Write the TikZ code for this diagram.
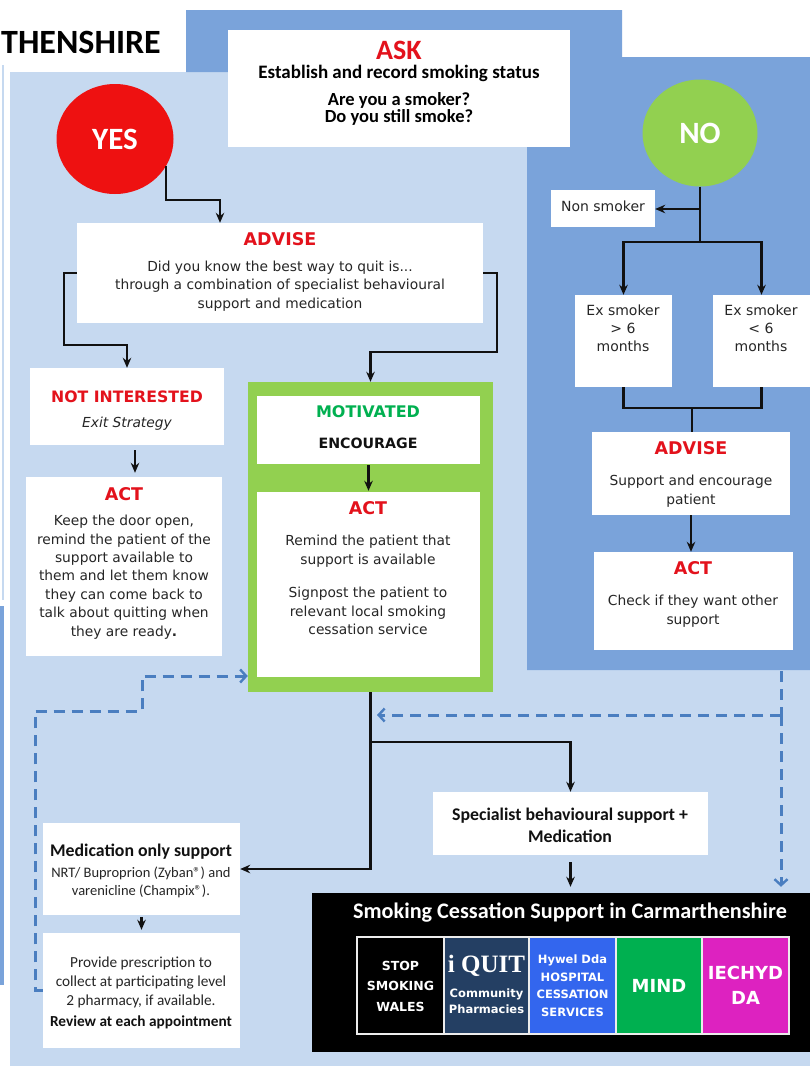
\documentclass[tikz,border=0pt]{standalone}
\usepackage{fontspec}
\setmainfont{DejaVu Sans}
\newfontfamily\calib{Carlito}
\newfontfamily\tnr{Liberation Serif}
\usetikzlibrary{arrows.meta,shapes.geometric,fit}
\definecolor{lblue}{HTML}{C6D9F0}
\definecolor{mblue}{HTML}{7AA3DA}
\definecolor{hred}{HTML}{E3121C}
\definecolor{cred}{HTML}{EE1111}
\definecolor{ygreen}{HTML}{92D050}
\definecolor{mgreen}{HTML}{00B050}
\definecolor{dblue}{HTML}{4A7EC0}
\definecolor{navy}{HTML}{243F63}
\definecolor{hblue}{HTML}{3366EE}
\definecolor{mag}{HTML}{DD22C0}
\definecolor{ink}{HTML}{111111}
\definecolor{txtc}{HTML}{262626}
\begin{document}
\begin{tikzpicture}[x=1pt,y=-1pt,
  wbox/.style={fill=white,draw=none,inner sep=0pt},
  conn/.style={draw=ink,line width=2.2pt,-{Stealth[length=10pt,width=8.5pt]}},
  plainline/.style={draw=ink,line width=2.2pt},
  dsh/.style={draw=dblue,line width=3pt,dash pattern=on 11pt off 7pt},
  dtip/.style={-{Straight Barb[length=6pt,width=13pt,line width=2.4pt]}},
  hd/.style={font=\bfseries\fontsize{#1}{#1}\selectfont,text=hred,inner sep=0pt},
  body/.style={font=\fontsize{13.8}{18.5}\selectfont,text=txtc,align=center,inner sep=0pt},
  cbody/.style={text=txtc,align=center,inner sep=0pt},
  lab/.style={text=white,align=center,inner sep=0pt},
  tile/.style={draw=white!85!gray,line width=1.5pt,inner sep=0pt}
]
% backgrounds
\fill[white] (0,0) rectangle (810,1066);
\fill[lblue] (10,72) rectangle (810,1066);
\fill[mblue] (186,10) -- (622,10) -- (622,57) -- (810,57) -- (810,670) -- (527,670) -- (527,72) -- (186,72) -- cycle;
\fill[lblue] (2,65) rectangle (3.5,600);
\fill[mblue] (0,606) rectangle (4,985);

\node[anchor=west,font=\calib\bfseries\fontsize{34}{34}\selectfont,inner sep=0pt] (hdr) at (1,42) {THENSHIRE};

% ASK
\node[wbox,fit={(228,30) (570,147)}] (ask) {};
\node[font=\calib\bfseries\fontsize{28}{28}\selectfont,text=hred,inner sep=0pt] (askt) at (399,50) {ASK};
\node[font=\calib\bfseries\fontsize{19}{20}\selectfont,inner sep=0pt] (ask2) at (399,73) {Establish and record smoking status};
\node[font=\calib\bfseries\fontsize{18.5}{17.5}\selectfont,align=center,inner sep=0pt] (ask3) at (399,109) {Are you a smoker?\\Do you still smoke?};

% circles
\node[ellipse,fill=cred,minimum width=117pt,minimum height=110pt,inner sep=0pt,text=white,font=\calib\bfseries\fontsize{31}{31}\selectfont] (yes) at (115,139) {YES};
\node[ellipse,fill=ygreen,minimum width=115pt,minimum height=107pt,inner sep=0pt,text=white,font=\calib\bfseries\fontsize{31}{31}\selectfont] (no) at (700,133) {NO};

% ADVISE (left)
\node[wbox,fit={(77,223) (483,323)}] (advise) {};
\node[hd=17.5] (advt) at (280,239) {ADVISE};
\node[body] (advb) at (280,286) {Did you know the best way to quit is...\\through a combination of specialist behavioural\\support and medication};

% NOT INTERESTED
\node[wbox,fit={(30,368) (224,445)}] (notint) {};
\node[hd=15.7] (nott) at (127,397) {NOT INTERESTED};
\node[body,font=\itshape\fontsize{13.8}{18}\selectfont] (notb) at (127,424) {Exit Strategy};

% ACT left
\node[wbox,fit={(26,477) (222,656)}] (actl) {};
\node[hd=17.5] (actlt) at (124,494) {ACT};
\node[body,font=\fontsize{13.8}{18.4}\selectfont] (actlb) at (124,577) {Keep the door open,\\remind the patient of the\\support available to\\them and let them know\\they can come back to\\talk about quitting when\\they are ready\textbf{.}};

% green motivated block
\node[fill=ygreen,inner sep=0pt,fit={(248,382) (493,692)}] (green) {};
\node[wbox,fit={(257,396) (480,464)}] (mot) {};
\node[font=\bfseries\fontsize{16}{16}\selectfont,text=mgreen,inner sep=0pt] (mott) at (368,412) {MOTIVATED};
\node[font=\bfseries\fontsize{14.2}{14}\selectfont,text=ink,inner sep=0pt] (enc) at (368,443) {ENCOURAGE};
\node[wbox,fit={(257,492) (480,677)}] (gact) {};
\node[hd=17.5] (gactt) at (368,508) {ACT};
\node[body] (gactb1) at (368,551) {Remind the patient that\\support is available};
\node[body] (gactb2) at (368,611) {Signpost the patient to\\relevant local smoking\\cessation service};

% right panel
\node[wbox,fit={(551,190) (655,227)}] (nons) {};
\node[body,font=\fontsize{14}{18}\selectfont] (nonst) at (603,206) {Non smoker};
\node[wbox,fit={(575,295) (672,387)}] (ex1) {};
\node[body,font=\fontsize{14}{18}\selectfont] (ex1t) at (623,328) {Ex smoker\\> 6\\months};
\node[wbox,fit={(713,295) (810,387)}] (ex2) {};
\node[body,font=\fontsize{14}{18}\selectfont] (ex2t) at (761,328) {Ex smoker\\< 6\\months};
\node[wbox,fit={(592,432) (790,515)}] (adv2) {};
\node[hd=17.5] (adv2t) at (691,448) {ADVISE};
\node[body] (adv2b) at (691,491) {Support and encourage\\patient};
\node[wbox,fit={(594,552) (793,650)}] (act2) {};
\node[hd=17.5] (act2t) at (693,568) {ACT};
\node[body] (act2b) at (693,611) {Check if they want other\\support};

% lower boxes
\node[wbox,fit={(433,792) (708,855)}] (spec) {};
\node[font=\calib\bfseries\fontsize{17.8}{22}\selectfont,align=center,inner sep=0pt,text=ink] (spect) at (570,825) {Specialist behavioural support +\\Medication};
\node[wbox,fit={(43,823) (240,915)}] (med) {};
\node[font=\calib\bfseries\fontsize{17.8}{16}\selectfont,inner sep=0pt,text=ink] (medt) at (141,852) {Medication only support};
\node[cbody,font=\calib\fontsize{14.5}{18}\selectfont] (medb) at (141,882) {NRT/ Buproprion (Zyban®) and\\varenicline (Champix®).};
\node[wbox,fit={(43,933) (240,1048)}] (presc) {};
\node[cbody,font=\calib\fontsize{15.3}{19}\selectfont] (prescb) at (141,982) {Provide prescription to\\collect at participating level\\2 pharmacy, if available.};
\node[font=\calib\bfseries\fontsize{15.3}{15}\selectfont,inner sep=0pt,text=ink] (prescr) at (141,1022) {Review at each appointment};

% black support box
\node[fill=black,inner sep=0pt,fit={(312,893) (810,1052)}] (black) {};
\node[font=\calib\bfseries\fontsize{22.2}{22}\selectfont,text=white,inner sep=0pt] (blackt) at (570,913) {Smoking Cessation Support in Carmarthenshire};
\node[tile,fill=black,fit={(357,937) (444,1034)}] (t1) {};
\node[tile,fill=navy,fit={(444,937) (529,1034)}] (t2) {};
\node[tile,fill=hblue,fit={(529,937) (616,1034)}] (t3) {};
\node[tile,fill=mgreen,fit={(616,937) (702,1034)}] (t4) {};
\node[tile,fill=mag,fit={(702,937) (789,1034)}] (t5) {};
\node[lab,font=\bfseries\fontsize{12.5}{20.5}\selectfont] (t1t) at (400.5,986) {STOP\\SMOKING\\WALES};
\node[font=\tnr\bfseries\fontsize{25}{25}\selectfont,text=white,inner sep=0pt] (t2a) at (486.5,966) {i QUIT};
\node[lab,font=\bfseries\fontsize{11.5}{16.5}\selectfont] (t2b) at (486.5,1001) {Community\\Pharmacies};
\node[lab,font=\bfseries\fontsize{11.5}{17.5}\selectfont] (t3t) at (572.5,985.5) {Hywel Dda\\HOSPITAL\\CESSATION\\SERVICES};
\node[lab,font=\bfseries\fontsize{18}{18}\selectfont] (t4t) at (659,986) {MIND};
\node[lab,font=\bfseries\fontsize{18}{25}\selectfont] (t5t) at (745.5,985.5) {IECHYD\\DA};

% connectors
\coordinate (ya) at (220,200);
\draw[conn] (yes.-28) |- (ya) -- (ya |- advise.north);
\coordinate (la) at (64,345);
\draw[conn] (advise.west) -| (la) -| (notint.north);
\coordinate (ra) at (497,352);
\draw[conn] (advise.east) -| (ra) -| (green.north);
\draw[conn,shorten <=5pt,shorten >=4pt] ([xshift=8pt]notint.south) -- ([xshift=8pt]notint.south |- actl.north);
\draw[conn,shorten <=1pt,shorten >=1pt] (mot.south) -- (mot.south |- gact.north);

\coordinate (n1) at (700,209);
\coordinate (n2) at (700,242);
\draw[plainline] (no.south) -- (n2);
\draw[conn] (n1) -- (n1 -| nons.east);
\draw[conn] (n2) -| (ex1.north);
\draw[conn] (n2) -| (ex2.north);
\coordinate (m1) at (692,408);
\draw[plainline] (ex1.south) |- (m1);
\draw[plainline] (ex2.south) |- (m1);
\draw[plainline] (m1) -- (m1 |- adv2.north);
\draw[conn] (adv2.south) -- (adv2.south |- act2.north);

\coordinate (b1) at (370,742);
\draw[conn] (green.south) |- (med.east);
\draw[conn] (b1) -| (spec.north);
\draw[conn,shorten <=7pt,shorten >=6pt] (spec.south) -- (spec.south |- black.north);
\draw[conn,shorten <=2pt,shorten >=3pt] (med.south) -- (med.south |- presc.north);

% dashed
\coordinate (d1) at (781,671);
\coordinate (d2) at (781,715);
\coordinate (d3) at (377,715);
\draw[dsh] (d1) -- (d2);
\draw[dsh,dtip] (d2) -- (d3);
\draw[dsh,dtip,shorten >=6pt] (d2) -- (d2 |- black.north);
\coordinate (c1) at (35,711);
\coordinate (c2) at (142,676);
\draw[dsh,dtip] (presc.west) -| (c1) -| (c2) -- (c2 -| green.west);
\end{tikzpicture}
\end{document}
